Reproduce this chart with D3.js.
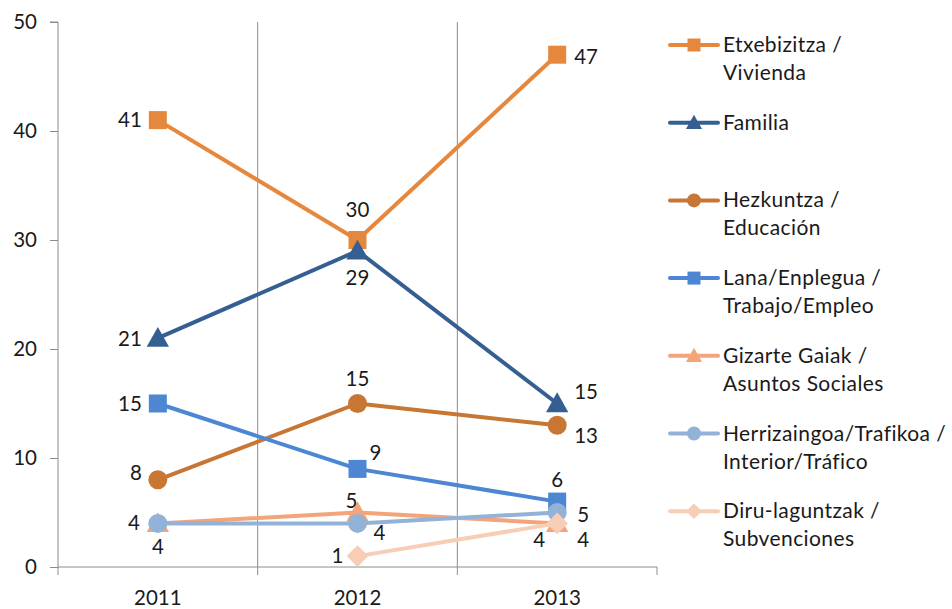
<!DOCTYPE html>
<html><head><meta charset="utf-8">
<script src="https://cdn.jsdelivr.net/npm/d3@7"></script>
<style>body{margin:0;background:#fff}svg text{font-family:Lato,"Open Sans",sans-serif;fill:#1a1a1a}</style>
</head><body><svg id="c" width="952" height="609"></svg>
<script>
const years = ["2011","2012","2013"];
const yTicks = [0,10,20,30,40,50];
const seriesNames = [
  ["Etxebizitza /","Vivienda"],
  ["Familia"],
  ["Hezkuntza /","Educación"],
  ["Lana/Enplegua /","Trabajo/Empleo"],
  ["Gizarte Gaiak /","Asuntos Sociales"],
  ["Herrizaingoa/Trafikoa /","Interior/Tráfico"],
  ["Diru-laguntzak /","Subvenciones"]
];
const etxebizitza = [41,30,47];
const familia = [21,29,15];
const hezkuntza = [8,15,13];
const lana = [15,9,6];
const gizarte = [4,5,4];
const herrizaingoa = [4,4,5];
const diruLaguntzak = [null,1,4];
const seriesValues = [etxebizitza,familia,hezkuntza,lana,gizarte,herrizaingoa,diruLaguntzak];
const colors = ["#E5883E","#355F93","#C77634","#4D86D2","#F4A479","#93B2D8","#F8CDB5"];
const markers = ["square","triangle","circle","square","triangle","circle","diamond"];
// label placement [dx,dy,anchor] per point
const labelPlace = [
  [[-16,7,"end"],[0,-23,"middle"],[17,9,"start"]],
  [[-16,8,"end"],[0,34,"middle"],[17,-5,"start"]],
  [[-16,0,"end"],[0,-18,"middle"],[17,18,"start"]],
  [[-16,7,"end"],[12,-9,"start"],[0,-15,"middle"]],
  [[0,31,"middle"],[-6,-5,"middle"],[20,24,"start"]],
  [[-18,7,"end"],[16,17,"start"],[20,9,"start"]],
  [null,[-14,7,"end"],[-18,24,"middle"]]
];

const svg = d3.select("#c");
const L=58,R=657,T=22,B=567;
const xb = d3.scaleBand().domain(years).range([L,R]).paddingInner(0).paddingOuter(0);
const xc = d => xb(d)+xb.bandwidth()/2;
const y = d3.scaleLinear().domain([0,50]).range([B,T]);
const axisCol="#8c8c8c";
const fs="20.5px";

// vertical gridlines
svg.append("g").selectAll("line").data(years.slice(1)).join("line")
  .attr("x1",d=>xb(d)).attr("x2",d=>xb(d)).attr("y1",T).attr("y2",B)
  .attr("stroke",axisCol).attr("stroke-width",1);

// y axis
const ya = svg.append("g").attr("transform",`translate(${L},0)`)
  .call(d3.axisLeft(y).tickValues(yTicks).tickSize(8).tickPadding(13));
ya.select(".domain").attr("stroke",axisCol).attr("d",`M-8,${T}H0V${B}`);
ya.selectAll(".tick line").attr("stroke",axisCol);
ya.selectAll("text").style("font-size",fs).attr("fill","#1a1a1a");

// x axis
const xa = svg.append("g").attr("transform",`translate(0,${B})`);
xa.append("line").attr("x1",L).attr("x2",R).attr("stroke",axisCol);
const bounds = years.map(d=>xb(d)).concat([R]);
xa.selectAll("line.t").data(bounds).join("line").attr("class","t")
  .attr("x1",d=>d).attr("x2",d=>d).attr("y1",0).attr("y2",8).attr("stroke",axisCol);
xa.selectAll("text").data(years).join("text").attr("x",d=>xc(d)).attr("y",38)
  .attr("text-anchor","middle").style("font-size",fs).text(d=>d);

function drawMarker(g,type,cx,cy,col,s){
  if(type==="square") g.append("rect").attr("x",cx-s/2).attr("y",cy-s/2).attr("width",s).attr("height",s).attr("fill",col);
  else if(type==="circle") g.append("circle").attr("cx",cx).attr("cy",cy).attr("r",s/2).attr("fill",col);
  else if(type==="triangle") g.append("path").attr("d",`M${cx},${cy-s*0.62}L${cx+s*0.62},${cy+s*0.48}L${cx-s*0.62},${cy+s*0.48}Z`).attr("fill",col);
  else if(type==="diamond") g.append("path").attr("d",`M${cx},${cy-s*0.6}L${cx+s*0.6},${cy}L${cx},${cy+s*0.6}L${cx-s*0.6},${cy}Z`).attr("fill",col);
}

const line = d3.line().defined(d=>d.v!=null).x(d=>xc(d.k)).y(d=>y(d.v));
seriesValues.forEach((vals,i)=>{
  const g = svg.append("g");
  const pts = years.map((k,j)=>({k,v:vals[j]}));
  g.append("path").attr("d",line(pts)).attr("fill","none").attr("stroke",colors[i]).attr("stroke-width",4).attr("stroke-linejoin","round");
  pts.forEach(p=>{ if(p.v!=null) drawMarker(g,markers[i],xc(p.k),y(p.v),colors[i],markers[i]==="circle"?19:18); });
});
// labels
seriesValues.forEach((vals,i)=>{
  years.forEach((k,j)=>{
    const v=vals[j]; const lp=labelPlace[i][j];
    if(v==null||!lp) return;
    svg.append("text").attr("x",xc(k)+lp[0]).attr("y",y(v)+lp[1]).attr("text-anchor",lp[2])
      .style("font-size",fs).text(v);
  });
});

// legend
const lg = svg.append("g");
seriesNames.forEach((nm,i)=>{
  const yy = 45 + i*77.7;
  lg.append("line").attr("x1",670).attr("x2",718).attr("y1",yy).attr("y2",yy).attr("stroke",colors[i]).attr("stroke-width",4).attr("stroke-linecap","round");
  drawMarker(lg,markers[i],694,yy,colors[i],markers[i]==="circle"?14:13);
  nm.forEach((t,k)=>lg.append("text").attr("x",723).attr("y",yy+7+k*28).style("font-size","21px").style("letter-spacing","0.4px").text(t));
});
</script></body></html>
